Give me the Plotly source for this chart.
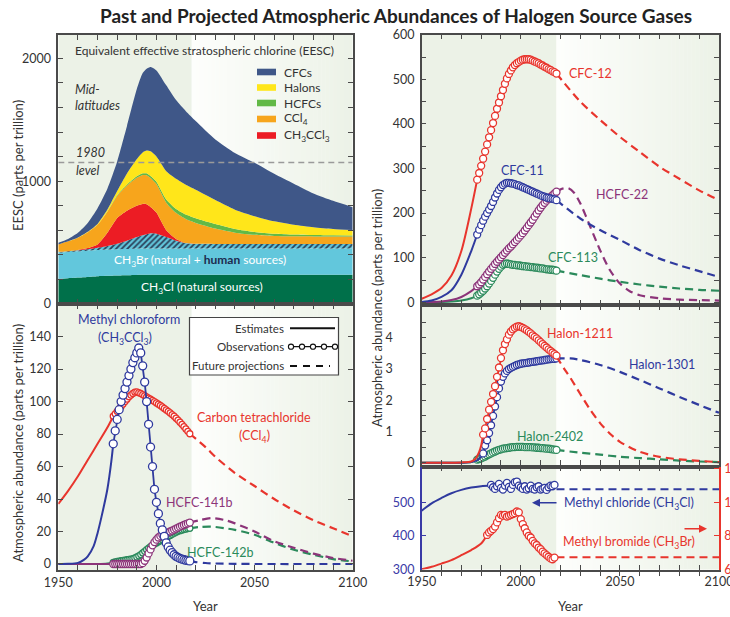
import plotly.graph_objects as go

W, H = 730, 617
FONT = "Lato"

# ======================= DATA =======================
# --- EESC stacked contributions (ppt) ---
eesc_years = [1950, 1955, 1960, 1965, 1970, 1975, 1980, 1985, 1990, 1993, 1995, 1997, 2000,
              2005, 2010, 2015, 2020, 2030, 2040, 2050, 2060, 2070, 2080, 2090, 2100]
eesc_ch3cl = [205, 210, 215, 220, 226, 230, 233, 235, 237, 238, 238, 238, 238,
              238, 238, 238, 238, 238, 238, 238, 238, 238, 238, 238, 238]
eesc_ch3br_natural = [213, 213, 213, 213, 213, 213, 213, 213, 213, 213, 213, 213, 213,
                      213, 213, 213, 213, 213, 213, 213, 213, 213, 213, 213, 213]
eesc_ch3br_human = [7, 7, 9, 13, 19, 29, 44, 67, 95, 109, 117, 124, 121,
                    94, 64, 44, 39, 38, 38, 37, 37, 37, 37, 37, 37]
eesc_ch3ccl3 = [0, 0, 3, 9, 27, 108, 210, 245, 255, 255, 244, 215, 172,
                55, 15, 1, 0, 0, 0, 0, 0, 0, 0, 0, 0]
eesc_ccl4 = [60, 80, 100, 130, 160, 172, 180, 205, 228, 235, 236, 235, 232,
             225, 212, 195, 170, 125, 92, 75, 66, 63, 62, 62, 62]
eesc_hcfcs = [0, 0, 0, 0, 0, 2, 5, 8, 12, 14, 16, 18, 20,
              26, 32, 37, 38, 37, 30, 24, 18, 14, 11, 9, 8]
eesc_halons = [0, 0, 1, 3, 7, 15, 35, 90, 140, 170, 185, 200, 205,
               230, 245, 242, 232, 195, 157, 128, 101, 80, 64, 52, 45]
eesc_cfcs = [14, 20, 39, 72, 128, 170, 240, 387, 570, 646, 666, 687, 701,
             699, 641, 600, 560, 494, 462, 435, 387, 335, 275, 229, 185]
eesc_1980_level = 1153

# --- Lower-left panel ---
obs_years_ll = list(range(1978, 2018))
mcf_est_years = [1950, 1955, 1960, 1963, 1965, 1968, 1970, 1972, 1975, 1977, 1978]
mcf_est = [0, 0.1, 0.7, 2.5, 4.7, 11, 19, 29, 46, 63, 74]
mcf_obs = [74, 82, 89, 95, 100, 104, 108, 112, 116, 120,
           124, 127, 130, 133, 130, 122, 112, 100, 86, 72,
           60, 46, 38, 31, 25, 21, 17, 13, 10.5, 8.5,
           7, 5.7, 4.7, 4.0, 3.4, 3.0, 2.6, 2.3, 2.1, 1.9]
mcf_proj_years = [2017, 2020, 2025, 2030, 2040, 2050, 2100]
mcf_proj = [1.9, 1.2, 0.6, 0.3, 0.1, 0, 0]

ccl4_est_years = [1950, 1955, 1960, 1965, 1970, 1975, 1978]
ccl4_est = [37, 45, 54, 64, 74, 84, 91]
ccl4_obs = [91, 92.5, 94, 95.5, 97, 98.5, 100, 101.5, 103, 104,
            105, 105.8, 106, 105.5, 105, 104.3, 103.6, 102.9, 102.2, 101.5,
            100.7, 100, 99.2, 98.4, 97.6, 96.7, 95.8, 94.9, 94, 93,
            92, 91, 89.8, 88.6, 87.3, 86, 84.6, 83.2, 81.7, 80.2]
ccl4_proj_years = [2017, 2025, 2030, 2040, 2050, 2060, 2070, 2080, 2090, 2100]
ccl4_proj = [80.2, 72, 66, 56, 48, 40, 33, 27, 22, 17]

h141b_est_years = [1950, 1978]
h141b_est = [0, 0]
h141b_obs = [0, 0, 0, 0, 0, 0, 0, 0, 0, 0,
             0, 0, 0, 0, 0, 0.5, 2, 4, 6.5, 9,
             11.5, 13.5, 15, 16.3, 17.3, 18, 18.5, 19, 19.5, 20,
             20.6, 21.2, 21.8, 22.4, 23, 23.5, 24, 24.5, 25, 25.5]
h141b_proj_years = [2017, 2022, 2028, 2035, 2040, 2050, 2060, 2070, 2080, 2090, 2100]
h141b_proj = [25.5, 27, 28.3, 27, 25, 20, 14, 10, 6.4, 3.7, 2]

h142b_est_years = [1950, 1970, 1975, 1978]
h142b_est = [0, 0, 0.3, 1.0]
h142b_obs = [1.0, 1.3, 1.6, 1.8, 2.0, 2.2, 2.4, 2.6, 2.8, 3.0,
             3.3, 3.7, 4.3, 5.0, 5.8, 6.8, 7.8, 8.8, 9.8, 10.7,
             11.5, 12.3, 13.0, 13.7, 14.3, 15.0, 15.6, 16.2, 16.9, 17.6,
             18.3, 19.0, 19.6, 20.1, 20.5, 20.9, 21.2, 21.5, 21.8, 22.0]
h142b_proj_years = [2017, 2022, 2028, 2035, 2040, 2050, 2060, 2070, 2080, 2090, 2100]
h142b_proj = [22, 22.8, 23, 22, 21, 18, 13, 8.8, 5.7, 3, 1.6]

# --- Upper-right panel (CFCs, HCFC-22) ---
obs_years_ur = list(range(1978, 2019))
cfc12_est_years = [1950, 1955, 1960, 1965, 1970, 1975, 1978]
cfc12_est = [8, 18, 32, 60, 115, 210, 275]
cfc12_obs = [275, 290, 306, 322, 338, 354, 370, 386, 402, 418,
             434, 448, 462, 476, 490, 502, 512, 520, 527, 532,
             536, 539, 542, 544, 545, 545, 545, 544, 542, 540,
             538, 536, 533, 531, 528, 526, 523, 521, 518, 516, 513]
cfc12_proj_years = [2018, 2030, 2040, 2050, 2060, 2070, 2080, 2090, 2100]
cfc12_proj = [513, 450, 409, 371, 337, 304, 277, 251, 229]

cfc11_est_years = [1950, 1955, 1960, 1965, 1970, 1975, 1978]
cfc11_est = [1, 4, 12, 27, 62, 115, 152]
cfc11_obs = [152, 163, 173, 183, 192, 200, 208, 216, 225, 235,
             244, 252, 258, 263, 266, 268, 268, 267, 266, 265,
             263, 262, 260, 258, 256, 254, 252, 250, 248, 246,
             244, 242, 240, 238, 237, 235, 234, 233, 232, 231, 229]
cfc11_proj_years = [2018, 2030, 2040, 2050, 2060, 2070, 2080, 2090, 2100]
cfc11_proj = [229, 188, 162, 140, 117, 98, 83, 70, 57]

hcfc22_est_years = [1950, 1960, 1965, 1970, 1975, 1978]
hcfc22_est = [0, 2, 5, 12, 25, 36]
hcfc22_obs = [36, 40, 45, 51, 57, 63, 69, 75, 80, 86,
              91, 96, 101, 106, 111, 116, 121, 125, 130, 135,
              140, 145, 150, 155, 161, 167, 173, 179, 185, 192,
              199, 206, 212, 218, 223, 228, 232, 236, 240, 244, 248]
hcfc22_proj_years = [2018, 2021, 2024, 2027, 2030, 2035, 2040, 2045, 2050, 2055, 2060, 2070, 2080, 2090, 2100]
hcfc22_proj = [248, 255, 256, 245, 222, 170, 117, 72, 42, 25, 16, 9, 6, 5, 4]

cfc113_est_years = [1950, 1960, 1965, 1970, 1975, 1978]
cfc113_est = [0, 1, 2, 4, 9, 15]
cfc113_obs = [15, 18, 22, 26, 31, 36, 42, 48, 55, 62,
              69, 75, 80, 84, 86, 87, 86, 85, 84, 84,
              83, 83, 82, 81, 81, 80, 80, 79, 79, 78,
              78, 77, 76, 76, 75, 74, 74, 73, 73, 72, 71]
cfc113_proj_years = [2018, 2030, 2040, 2050, 2060, 2070, 2080, 2090, 2100]
cfc113_proj = [71, 61, 53, 46, 40, 35, 31, 28, 26]

# --- Middle-right panel (halons) ---
h1211_est_years = [1950, 1960, 1970, 1975, 1977, 1979, 1980, 1981]
h1211_est = [0, 0, 0.01, 0.04, 0.12, 0.35, 0.55, 0.9]
h1211_obs_years = list(range(1981, 2019))
h1211_obs = [0.9, 1.1, 1.4, 1.7, 1.95, 2.2, 2.45, 2.75, 3.05, 3.35,
             3.6, 3.8, 3.95, 4.1, 4.2, 4.27, 4.32, 4.36, 4.37, 4.35,
             4.32, 4.28, 4.24, 4.19, 4.14, 4.08, 4.03, 3.98, 3.92, 3.86,
             3.8, 3.74, 3.69, 3.63, 3.58, 3.53, 3.48, 3.43]
h1211_proj_years = [2018, 2022, 2025, 2030, 2035, 2040, 2045, 2050, 2060, 2070, 2080, 2090, 2100]
h1211_proj = [3.4, 3.0, 2.72, 2.2, 1.7, 1.27, 0.93, 0.67, 0.35, 0.19, 0.11, 0.06, 0.02]

h1301_est_years = [1950, 1970, 1975, 1978, 1980, 1981]
h1301_est = [0, 0, 0.02, 0.08, 0.2, 0.3]
h1301_obs_years = list(range(1981, 2019))
h1301_obs = [0.3, 0.55, 0.72, 0.95, 1.2, 1.5, 1.8, 2.1, 2.38, 2.6,
             2.75, 2.86, 2.94, 3.0, 3.04, 3.07, 3.1, 3.13, 3.15, 3.17,
             3.18, 3.19, 3.2, 3.21, 3.22, 3.23, 3.24, 3.25, 3.26, 3.27,
             3.28, 3.29, 3.3, 3.31, 3.32, 3.33, 3.33, 3.34]
h1301_proj_years = [2018, 2025, 2030, 2040, 2050, 2060, 2070, 2080, 2090, 2100]
h1301_proj = [3.34, 3.34, 3.29, 3.13, 2.91, 2.65, 2.38, 2.11, 1.85, 1.6]

h2402_est_years = [1950, 1970, 1975, 1978]
h2402_est = [0, 0, 0.02, 0.1]
h2402_obs_years = list(range(1978, 2019))
h2402_obs = [0.1, 0.12, 0.14, 0.17, 0.2, 0.24, 0.27, 0.3, 0.33, 0.36,
             0.39, 0.41, 0.43, 0.45, 0.46, 0.47, 0.48, 0.49, 0.5, 0.5,
             0.51, 0.51, 0.51, 0.51, 0.5, 0.5, 0.5, 0.5, 0.49, 0.49,
             0.48, 0.48, 0.47, 0.47, 0.46, 0.45, 0.45, 0.44, 0.43, 0.42, 0.41]
h2402_proj_years = [2018, 2030, 2040, 2050, 2060, 2070, 2080, 2090, 2100]
h2402_proj = [0.41, 0.32, 0.26, 0.19, 0.15, 0.11, 0.07, 0.04, 0.02]

# --- Bottom-right panel (methyl chloride left axis, methyl bromide right axis) ---
mecl_est_years = [1950, 1955, 1960, 1965, 1970, 1975, 1980, 1985]
mecl_est = [475, 497, 513, 527, 537, 544, 548, 550]
mecl_obs_years = list(range(1985, 2018))
mecl_obs = [552, 545, 540, 548, 555, 543, 538, 550, 558, 546,
            540, 552, 560, 562, 550, 545, 540, 548, 538, 542,
            550, 540, 538, 545, 548, 538, 540, 543, 537, 545,
            550, 548, 552]
mecl_proj_years = [2018, 2100]
mecl_proj = [539, 539]

mebr_est_years = [1950, 1955, 1960, 1965, 1970, 1975, 1980, 1983]
mebr_est = [6.0, 6.15, 6.34, 6.55, 6.84, 7.15, 7.54, 8.05]
mebr_obs_years = list(range(1983, 2018))
mebr_obs = [8.05, 8.2, 8.3, 8.4, 8.55, 8.8, 9.05, 9.25, 9.2, 9.25,
            9.15, 9.2, 9.25, 9.3, 9.35, 9.45, 9.4, 9.0, 8.7, 8.45,
            8.2, 8.0, 7.9, 7.7, 7.55, 7.45, 7.3, 7.2, 7.05, 6.95,
            6.85, 6.75, 6.65, 6.6, 6.7]
mebr_proj_years = [2018, 2100]
mebr_proj = [6.72, 6.72]

x_ticks = list(range(1950, 2101, 10))

# ======================= STYLE =======================
RED = "#e8352d"
BLUE = "#2f3a9e"
PURPLE = "#8c3479"
GREEN = "#2b8a5b"
FRAME = "#4a4a4a"
TXT = "#333333"
BG = (236, 242, 231)
DASH = "8px,5px"
FIG = "\u2007"  # figure space (digit width) used to mimic label offsets


def px(x):
    return x / W


def py(y):
    return 1 - y / H


fig = go.Figure()


def est(x, y, color, xa, ya):
    fig.add_trace(go.Scatter(x=x, y=y, mode="lines", xaxis=xa, yaxis=ya, showlegend=False,
                             hoverinfo="skip",
                             line=dict(color=color, width=2, shape="spline", smoothing=0.8)))


def proj(x, y, color, xa, ya):
    fig.add_trace(go.Scatter(x=x, y=y, mode="lines", xaxis=xa, yaxis=ya, showlegend=False,
                             hoverinfo="skip",
                             line=dict(color=color, width=2.2, dash=DASH, shape="spline", smoothing=0.8)))


def obs(x, y, color, xa, ya, size=7):
    fig.add_trace(go.Scatter(x=x, y=y, mode="lines+markers", xaxis=xa, yaxis=ya, showlegend=False,
                             hoverinfo="skip", line=dict(color=color, width=1.8),
                             marker=dict(size=size, color="white", line=dict(color=color, width=1.3))))


def series(color, xa, ya, ex, ey, ox, oy, prx, pry, size=7):
    est(ex, ey, color, xa, ya)
    proj(prx, pry, color, xa, ya)
    obs(ox, oy, color, xa, ya, size)


# ---- EESC stacked areas ----
layers = [
    (eesc_ch3cl, "#00704a", None),
    (eesc_ch3br_natural, "#62c7dc", None),
    (eesc_ch3br_human, "#62c7dc", dict(shape="/", bgcolor="#62c7dc", fgcolor="#2a3f58", size=4, solidity=0.45)),
    (eesc_ch3ccl3, "#ec1c24", None),
    (eesc_ccl4, "#f7a51c", None),
    (eesc_hcfcs, "#62b946", None),
    (eesc_halons, "#ffe61a", None),
    (eesc_cfcs, "#3f5788", None),
]
for vals, col, pat in layers:
    kw = dict(x=eesc_years, y=vals, mode="lines", stackgroup="eesc", xaxis="x", yaxis="y",
              showlegend=False, hoverinfo="skip",
              line=dict(width=0, shape="spline", smoothing=0.6), fillcolor=col)
    if pat:
        kw["fillpattern"] = pat
    fig.add_trace(go.Scatter(**kw))

# ---- lower-left ----
series(RED, "x2", "y2", ccl4_est_years, ccl4_est, obs_years_ll, ccl4_obs, ccl4_proj_years, ccl4_proj, size=6)
series(GREEN, "x2", "y2", h142b_est_years, h142b_est, obs_years_ll, h142b_obs, h142b_proj_years, h142b_proj, size=6)
series(PURPLE, "x2", "y2", h141b_est_years, h141b_est, obs_years_ll, h141b_obs, h141b_proj_years, h141b_proj, size=7)
series(BLUE, "x2", "y2", mcf_est_years, mcf_est, obs_years_ll, mcf_obs, mcf_proj_years, mcf_proj, size=8)

# ---- upper-right ----
series(GREEN, "x3", "y3", cfc113_est_years, cfc113_est, obs_years_ur, cfc113_obs, cfc113_proj_years, cfc113_proj)
series(PURPLE, "x3", "y3", hcfc22_est_years, hcfc22_est, obs_years_ur, hcfc22_obs, hcfc22_proj_years, hcfc22_proj)
series(BLUE, "x3", "y3", cfc11_est_years, cfc11_est, obs_years_ur, cfc11_obs, cfc11_proj_years, cfc11_proj)
series(RED, "x3", "y3", cfc12_est_years, cfc12_est, obs_years_ur, cfc12_obs, cfc12_proj_years, cfc12_proj)

# ---- middle-right ----
series(GREEN, "x4", "y4", h2402_est_years, h2402_est, h2402_obs_years, h2402_obs, h2402_proj_years, h2402_proj)
series(BLUE, "x4", "y4", h1301_est_years, h1301_est, h1301_obs_years, h1301_obs, h1301_proj_years, h1301_proj)
series(RED, "x4", "y4", h1211_est_years, h1211_est, h1211_obs_years, h1211_obs, h1211_proj_years, h1211_proj)

# ---- bottom-right ----
series(BLUE, "x5", "y5", mecl_est_years, mecl_est, mecl_obs_years, mecl_obs, mecl_proj_years, mecl_proj)
series(RED, "x5", "y6", mebr_est_years, mebr_est, mebr_obs_years, mebr_obs, mebr_proj_years, mebr_proj)

# ======================= AXES =======================
XL = [px(58.3), px(352.7)]
XR = [px(421.7), px(719)]


def xcfg(domain, anchor, labels):
    return dict(domain=domain, anchor=anchor, range=[1950, 2100], tickmode="array",
                tickvals=x_ticks,
                ticktext=[(str(v) if (labels and v % 50 == 0) else "") for v in x_ticks],
                ticks="inside", ticklen=5, tickwidth=1, tickcolor=FRAME,
                showline=True, linecolor=FRAME, linewidth=1.5, mirror="allticks",
                showgrid=False, zeroline=False, automargin=False, ticklabeloverflow="allow",
                tickfont=dict(size=12.5, color=TXT, family=FONT))


def ycfg(domain, anchor, rng, vals, texts, color=TXT, linecolor=FRAME, mirror="allticks"):
    return dict(domain=domain, anchor=anchor, range=rng, tickmode="array", tickvals=vals,
                ticktext=texts,
                ticks="inside", ticklen=5, tickwidth=1, tickcolor=linecolor,
                showline=True, linecolor=linecolor, linewidth=1.5, mirror=mirror,
                showgrid=False, zeroline=False, automargin=False, ticklabelstandoff=3,
                ticklabeloverflow="allow",
                tickfont=dict(size=12.5, color=color, family=FONT))


def lab(vals, keep):
    return [(f"{v:g}" if v in keep else "") for v in vals]


y1v = list(range(0, 2001, 200))
y2v = list(range(0, 141, 20))
y3v = list(range(0, 601, 50))
y4v = [i * 0.5 for i in range(10)]
y4t = [("0" if v == 0 else (f"{v:g}" + FIG * 3 if v in (1, 2, 3, 4) else "")) for v in y4v]

layout_axes = dict(
    xaxis=xcfg(XL, "y", False),
    yaxis=ycfg([py(304), py(35)], "x", [0, 2190], y1v, lab(y1v, [0, 1000, 2000])),
    xaxis2=xcfg(XL, "y2", True),
    yaxis2=ycfg([py(570), py(304)], "x2", [-3.7, 160.1], y2v, lab(y2v, y2v)),
    xaxis3=xcfg(XR, "y3", False),
    yaxis3=ycfg([py(305), py(34.5)], "x3", [-6, 600.5], y3v, lab(y3v, list(range(0, 601, 100)))),
    xaxis4=xcfg(XR, "y4", False),
    yaxis4=ycfg([py(466.5), py(305)], "x4", [-0.12, 5.05], y4v, y4t),
    xaxis5=xcfg(XR, "y5", True),
    yaxis5=ycfg([py(569.5), py(466.5)], "x5", [299.4, 606.9], [300, 400, 500], ["300", "400", "500"],
                color="#3a3aa6", linecolor="#3a3aa6", mirror=False),
    yaxis6=dict(overlaying="y5", anchor="x5", side="right", range=[5.988, 12.138], tickmode="array",
                tickvals=[6, 8, 10, 12], ticktext=["6", "8", "10", "12"], ticks="inside", ticklen=5,
                tickcolor=RED, showline=True, linecolor=RED, linewidth=1.5, showgrid=False,
                zeroline=False, automargin=False, ticklabelstandoff=1, ticklabeloverflow="allow",
                tickfont=dict(size=12.5, color=RED, family=FONT)),
)

# ======================= SHAPES =======================
shapes = []


def mix(t):
    a = (253, 254, 252)
    c = tuple(round(a[i] + (BG[i] - a[i]) * t) for i in range(3))
    return "rgb(%d,%d,%d)" % c


for xa, ya in [("x", "y"), ("x2", "y2"), ("x3", "y3"), ("x4", "y4"), ("x5", "y5")]:
    shapes.append(dict(type="rect", xref=xa, yref=ya + " domain", x0=1950, x1=2018, y0=0, y1=1,
                       fillcolor="rgb(%d,%d,%d)" % BG, line=dict(width=0), layer="below"))
    n = 41
    for i in range(n):
        x0 = 2018 + i * 2
        shapes.append(dict(type="rect", xref=xa, yref=ya + " domain", x0=x0, x1=min(x0 + 2.2, 2100),
                           y0=0, y1=1, fillcolor=mix(i / (n - 1)), line=dict(width=0), layer="below"))

# 1980 level line
shapes.append(dict(type="line", xref="x", yref="y", x0=1950, x1=2100, y0=eesc_1980_level,
                   y1=eesc_1980_level, line=dict(color="#9a9a9a", width=1.5, dash="6px,4px"),
                   layer="above"))

# EESC legend boxes
eesc_leg = [("CFCs", "#3f5788", 72), ("Halons", "#ffe61a", 87.5), ("HCFCs", "#62b946", 103),
            ("CCl<sub>4</sub>", "#f7a51c", 119), ("CH<sub>3</sub>CCl<sub>3</sub>", "#ec1c24", 135.5)]
for labtxt, col, yy in eesc_leg:
    shapes.append(dict(type="rect", xref="paper", yref="paper", x0=px(257), x1=px(276),
                       y0=py(yy + 3.3), y1=py(yy - 3.3), fillcolor=col, line=dict(width=0)))

# lower-left legend box
shapes.append(dict(type="rect", xref="paper", yref="paper", x0=px(189.5), x1=px(338.5),
                   y0=py(375), y1=py(317.5), fillcolor="white", line=dict(color="#444", width=1.2)))
shapes.append(dict(type="line", xref="paper", yref="paper", x0=px(290), x1=px(335), y0=py(328.3),
                   y1=py(328.3), line=dict(color="#111", width=2)))
shapes.append(dict(type="line", xref="paper", yref="paper", x0=px(290), x1=px(335), y0=py(346.7),
                   y1=py(346.7), line=dict(color="#111", width=1.3)))
for cx in [291, 302, 313, 324, 335]:
    shapes.append(dict(type="circle", xref="paper", yref="paper", x0=px(cx - 2.6), x1=px(cx + 2.6),
                       y0=py(346.7 + 2.6), y1=py(346.7 - 2.6), fillcolor="white",
                       line=dict(color="#111", width=1.1)))
shapes.append(dict(type="line", xref="paper", yref="paper", x0=px(290), x1=px(330), y0=py(366),
                   y1=py(366), line=dict(color="#111", width=2, dash="7px,6px")))

# ======================= ANNOTATIONS =======================
ann = []


def text(x, y, s, size=12.5, color=TXT, xanchor="center", angle=0, bold=False):
    ann.append(dict(x=px(x), y=py(y), xref="paper", yref="paper", text=(f"<b>{s}</b>" if bold else s),
                    showarrow=False, xanchor=xanchor, yanchor="middle", textangle=angle,
                    font=dict(size=size, color=color, family=FONT)))


text(396, 16, "Past and Projected Atmospheric Abundances of Halogen Source Gases", size=19,
     color="#222", bold=True)
text(204, 50.5, "Equivalent effective stratospheric chlorine (EESC)", size=12, color=TXT)
text(72.5, 90, "<i>Mid-</i>", size=12.5, xanchor="left")
text(72.5, 106, "<i>latitudes</i>", size=12.5, xanchor="left")
text(73.5, 152, "<i>1980</i>", size=12.5, xanchor="left")
text(73.5, 170.5, "<i>level</i>", size=12.5, xanchor="left")
for labtxt, col, yy in eesc_leg:
    text(281.5, yy, labtxt, size=12, xanchor="left")
text(200, 260, 'CH<sub>3</sub>Br (natural + <b><span style="color:#1d2b4f">human</span></b> sources)',
     size=12, color="white")
text(201.5, 287.5, "CH<sub>3</sub>Cl (natural sources)", size=12, color="white")

text(286, 328.3, "Estimates", size=11.5, xanchor="right")
text(286, 346.7, "Observations", size=11.5, xanchor="right")
text(286, 366, "Future projections", size=11.5, xanchor="right")

text(128.5, 319.5, "Methyl chloroform", size=12.5, color=BLUE)
text(125, 338.5, "(CH<sub>3</sub>CCl<sub>3</sub>)", size=12.5, color=BLUE)
text(254, 417, "Carbon tetrachloride", size=12.5, color=RED)
text(254, 436, "(CCl<sub>4</sub>)", size=12.5, color=RED)
text(199, 502.5, "HCFC-141b", size=12.5, color=PURPLE)
text(221, 552, "HCFC-142b", size=12.5, color=GREEN)

text(590, 73, "CFC-12", size=12.5, color=RED)
text(522, 170, "CFC-11", size=12.5, color=BLUE)
text(622, 194, "HCFC-22", size=12.5, color=PURPLE)
text(573, 257, "CFC-113", size=12.5, color=GREEN)
text(580, 333, "Halon-1211", size=12.5, color=RED)
text(662, 364, "Halon-1301", size=12.5, color=BLUE)
text(550, 436, "Halon-2402", size=12.5, color=GREEN)
text(628.5, 503, "Methyl chloride (CH<sub>3</sub>Cl)", size=12.5, color=BLUE)
text(629, 542, "Methyl bromide (CH<sub>3</sub>Br)", size=12.5, color=RED)

# arrows
ann.append(dict(x=px(532), y=py(502.7), xref="paper", yref="paper", text="", showarrow=True,
                ax=26, ay=0, arrowhead=2, arrowsize=1, arrowwidth=1.6, arrowcolor=BLUE))
ann.append(dict(x=px(707), y=py(528.7), xref="paper", yref="paper", text="", showarrow=True,
                ax=-24, ay=0, arrowhead=2, arrowsize=1, arrowwidth=1.6, arrowcolor=RED))

# axis titles
text(18, 166, "EESC (parts per trillion)", size=13, angle=-90)
text(18, 443, "Atmospheric abundance (parts per trillion)", size=13, angle=-90)
text(377, 308, "Atmospheric abundance (parts per trillion)", size=13, angle=-90)
text(205, 606, "Year", size=13)
text(570, 606, "Year", size=13)

fig.update_layout(
    template="none",
    width=W, height=H, autosize=False,
    margin=dict(l=0, r=0, t=0, b=0, pad=0),
    paper_bgcolor="white", plot_bgcolor="white",
    font=dict(family=FONT, color=TXT),
    shapes=shapes, annotations=ann, showlegend=False,
    **layout_axes,
)

fig.write_html("out.html")
